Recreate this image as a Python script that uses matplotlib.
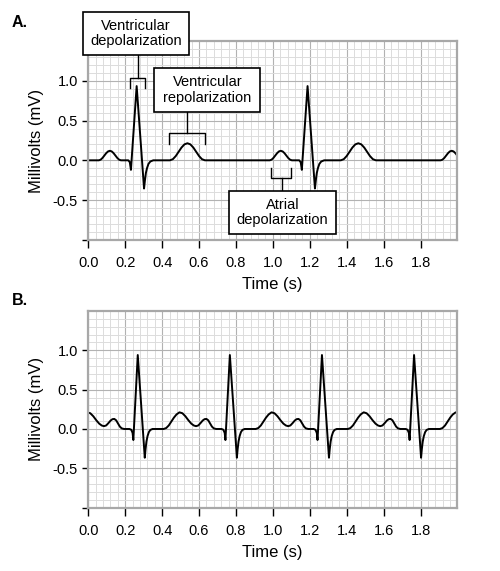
import numpy as np
import matplotlib
matplotlib.use('Agg')
from matplotlib import pyplot as plt
from matplotlib.ticker import MultipleLocator

plt.rcParams['font.family'] = ['Liberation Sans', 'DejaVu Sans']
plt.rcParams['axes.unicode_minus'] = False

# --- data ---
# A: one beat, times relative to the R peak (s) and voltage (mV)
beat_a_t = [-0.205, -0.195, -0.185, -0.175, -0.165, -0.155, -0.145, -0.135, -0.125, -0.115, -0.105, -0.095, -0.085,
            -0.045, -0.037, -0.031, 0.0, 0.040, 0.045, 0.050, 0.056, 0.064, 0.074, 0.090,
            0.180, 0.196, 0.212, 0.228, 0.243, 0.259, 0.275, 0.291, 0.307, 0.322, 0.338, 0.354, 0.370]
beat_a_v = [0.0, 0.008, 0.03, 0.06, 0.09, 0.112, 0.12, 0.112, 0.09, 0.06, 0.03, 0.008, 0.0,
            0.0, -0.025, -0.12, 0.935, -0.355, -0.25, -0.16, -0.10, -0.045, -0.015, 0.0,
            0.0, 0.014, 0.054, 0.108, 0.161, 0.201, 0.215, 0.201, 0.161, 0.108, 0.054, 0.014, 0.0]
r_peaks_a = [-0.664, 0.262, 1.188, 2.114]

# B: faster rate, T wave runs into the next P wave
beat_b_t = [-0.045, -0.035, -0.028, -0.024, 0.0, 0.038, 0.042, 0.047, 0.053, 0.060, 0.068, 0.080,
            0.140, 0.154, 0.168, 0.182, 0.196, 0.210, 0.226, 0.242, 0.258, 0.274, 0.290, 0.304, 0.316,
            0.328, 0.340, 0.352, 0.362, 0.372, 0.382, 0.392, 0.402, 0.412, 0.425]
beat_b_v = [0.0, -0.01, -0.05, -0.14, 0.94, -0.365, -0.26, -0.16, -0.09, -0.04, -0.012, 0.0,
            0.0, 0.012, 0.045, 0.095, 0.145, 0.185, 0.212, 0.2, 0.162, 0.112, 0.068, 0.044, 0.036,
            0.045, 0.075, 0.108, 0.125, 0.128, 0.11, 0.07, 0.03, 0.008, 0.0]
r_peaks_b = [-0.231, 0.268, 0.767, 1.266, 1.765]

x_ticks = [0.0, 0.2, 0.4, 0.6, 0.8, 1.0, 1.2, 1.4, 1.6, 1.8]
y_ticks = [-1.0, -0.5, 0.0, 0.5, 1.0]
y_tick_labels = ['', '-0.5', '0.0', '0.5', '1.0']

# annotation boxes on panel A: text, box (x0, x1, y0, y1), stem x, bracket (x0, x1, y, leg end)
notes = [
    ('Ventricular\ndepolarization', (-0.029, 0.545, 1.326, 1.868), 0.268, (0.226, 0.309, 1.04, 0.907)),
    ('Ventricular\nrepolarization', (0.358, 0.932, 0.612, 1.159), 0.536, (0.439, 0.634, 0.34, 0.205)),
    ('Atrial\ndepolarization', (0.764, 1.340, -0.928, -0.387), 1.049, (0.991, 1.10, -0.223, -0.10)),
]


def trace(beat_t, beat_v, peaks):
    t, v = [], []
    for r in peaks:
        t += [r + d for d in beat_t]
        v += beat_v
    return t, v


def ecg_axes(rect):
    ax = fig.add_axes(rect)
    ax.set_xlim(0, 1.995)
    ax.set_ylim(-1.0, 1.5)
    ax.xaxis.set_major_locator(MultipleLocator(0.2))
    ax.xaxis.set_minor_locator(MultipleLocator(0.04))
    ax.yaxis.set_major_locator(MultipleLocator(0.5))
    ax.yaxis.set_minor_locator(MultipleLocator(0.1))
    ax.grid(which='major', color='#b2b2b2', lw=0.8)
    ax.grid(which='minor', color='#dcdcdc', lw=0.7)
    ax.set_axisbelow(True)
    for s in ax.spines.values():
        s.set_color('#a8a8a8')
        s.set_linewidth(1.6)
    ax.set_xticks(x_ticks)
    ax.set_xticklabels(['%.1f' % x for x in x_ticks])
    ax.set_yticks(y_ticks)
    ax.set_yticklabels(y_tick_labels)
    ax.tick_params(which='minor', length=0)
    ax.tick_params(axis='x', which='major', direction='out', length=6, width=1, color='black', pad=6, labelsize=10.5)
    ax.tick_params(axis='y', which='major', direction='out', length=4.5, width=1, color='black', pad=3, labelsize=10.5)
    ax.set_xlabel('Time (s)', fontsize=12, labelpad=5)
    ax.set_ylabel('Millivolts (mV)', fontsize=12, labelpad=6)
    return ax


fig = plt.figure(figsize=(5.0, 5.71), dpi=100)

# A
ax1 = ecg_axes([0.1766, 0.5802, 0.7364, 0.3476])
t, v = trace(beat_a_t, beat_a_v, r_peaks_a)
ax1.plot(t, v, color='black', lw=1.4, solid_joinstyle='round')

for txt, (bx0, bx1, by0, by1), sx, (kx0, kx1, ky, kend) in notes:
    ax1.add_patch(plt.Rectangle((bx0, by0), bx1 - bx0, by1 - by0, facecolor='white', edgecolor='black',
                                lw=1.2, clip_on=False, zorder=5))
    ax1.text((bx0 + bx1) / 2, (by0 + by1) / 2, txt, ha='center', va='center', fontsize=10.5,
             linespacing=1.15, zorder=6)
    stem_y = by0 if by0 > ky else by1
    ax1.plot([sx, sx], [stem_y, ky], color='black', lw=1, zorder=4, clip_on=False)
    ax1.plot([kx0, kx0, kx1, kx1], [kend, ky, ky, kend], color='black', lw=1, zorder=4)

# B
ax2 = ecg_axes([0.1766, 0.1109, 0.7364, 0.3445])
t, v = trace(beat_b_t, beat_b_v, r_peaks_b)
ax2.plot(t, v, color='black', lw=1.4, solid_joinstyle='round')

fig.text(0.024, 0.952, 'A.', fontsize=11.5, fontweight='bold')
fig.text(0.024, 0.466, 'B.', fontsize=11.5, fontweight='bold')

plt.savefig('out.png', dpi=100)
